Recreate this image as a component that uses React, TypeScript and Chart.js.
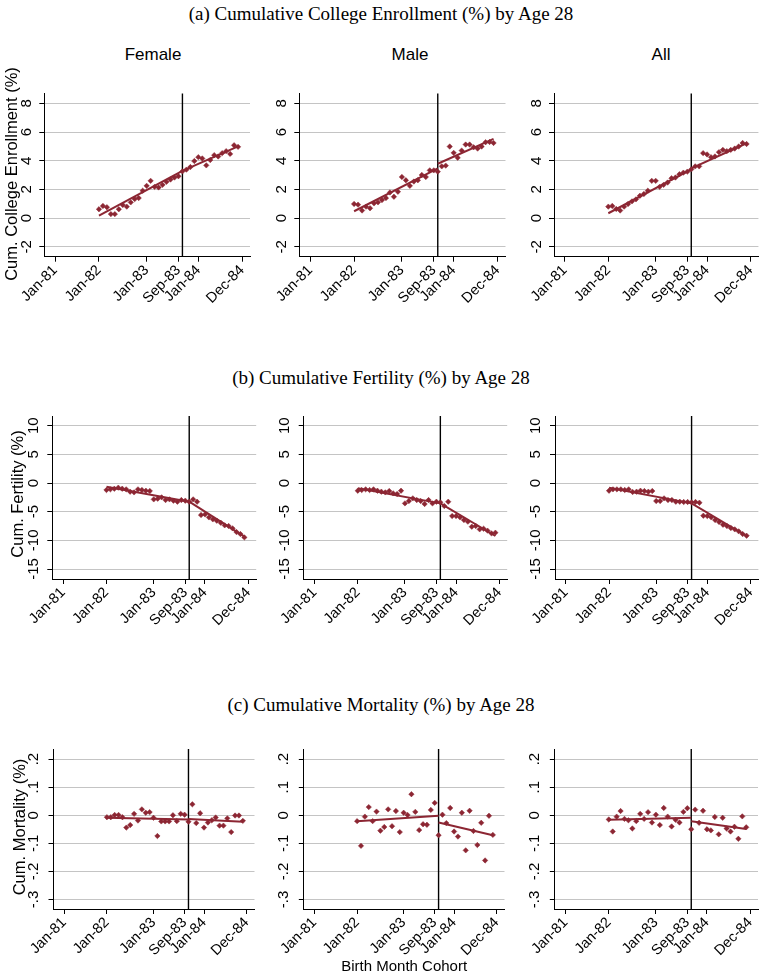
import React, { useEffect, useRef } from "react";
import { Chart, registerables } from "chart.js";

Chart.register(...registerables);

// ---------- DATA ----------
const cohortMonth = [11, 12, 13, 14, 15, 16, 17, 18, 19, 20, 21, 22, 23, 24, 25, 26, 27, 28, 29, 30, 31, 32, 33, 34, 35, 36, 37, 38, 39, 40, 41, 42, 43, 44, 45, 46];
const xTickValues = [0, 11, 23, 31, 36, 47];
const xTickLabels = ["Jan-81", "Jan-82", "Jan-83", "Sep-83", "Jan-84", "Dec-84"];
const cutoffMonth = 32;
const fitLeftX = [11, 32];
const fitRightX = [32, 46];

const collegeFemale = [0.62, 0.85, 0.76, 0.28, 0.28, 0.62, 0.92, 0.8, 1.1, 1.33, 1.4, 1.91, 2.25, 2.6, 2.18, 2.14, 2.32, 2.53, 2.69, 2.83, 2.92, 3.26, 3.38, 3.56, 3.98, 4.25, 4.16, 3.68, 4.05, 4.39, 4.3, 4.53, 4.67, 4.48, 5.08, 4.97];
const collegeMale = [0.99, 0.94, 0.53, 0.8, 0.69, 1.03, 1.1, 1.26, 1.4, 1.79, 1.49, 1.84, 2.87, 2.64, 2.25, 2.55, 2.64, 3.01, 2.87, 3.33, 3.33, 3.24, 3.61, 3.66, 4.99, 4.55, 4.21, 4.71, 5.13, 5.13, 4.94, 4.85, 4.99, 5.29, 5.31, 5.24];
const collegeAll = [0.8, 0.85, 0.64, 0.53, 0.8, 0.99, 1.17, 1.31, 1.56, 1.68, 1.91, 2.6, 2.6, 2.18, 2.32, 2.48, 2.78, 2.83, 3.06, 3.17, 3.24, 3.4, 3.61, 3.61, 4.53, 4.44, 4.25, 4.3, 4.6, 4.76, 4.67, 4.76, 4.85, 4.99, 5.24, 5.17];

const fertilityFemale = [-1.22, -1.1, -0.99, -0.81, -0.99, -1.1, -1.51, -1.63, -1.1, -1.22, -1.34, -1.4, -2.85, -2.73, -2.5, -2.97, -2.85, -3.08, -3.26, -2.97, -3.08, -3.26, -2.85, -3.26, -5.58, -5.47, -5.99, -6.34, -6.57, -6.92, -7.38, -7.5, -7.91, -8.55, -8.9, -9.48];
const fertilityMale = [-1.34, -1.22, -1.1, -1.22, -1.1, -1.34, -1.51, -1.63, -1.4, -1.8, -1.92, -1.34, -3.55, -3.14, -2.67, -2.97, -3.14, -3.66, -2.97, -3.55, -3.26, -3.37, -4.01, -3.26, -5.76, -5.76, -5.99, -6.45, -6.74, -7.62, -7.5, -8.08, -7.97, -8.31, -8.78, -8.66];
const fertilityAll = [-1.34, -1.1, -1.1, -1.1, -1.22, -1.1, -1.57, -1.51, -1.34, -1.4, -1.51, -1.4, -3.14, -3.14, -2.67, -2.97, -2.97, -3.26, -3.26, -3.31, -3.31, -3.37, -3.31, -3.43, -5.7, -5.76, -5.99, -6.45, -6.8, -7.27, -7.5, -7.85, -8.08, -8.43, -8.9, -9.19];

const mortalityFemale = [-0.007, -0.007, 0.001, 0.001, -0.007, -0.044, -0.035, 0.005, -0.019, 0.021, 0.009, 0.011, -0.009, -0.074, -0.022, -0.022, -0.022, 0.0, -0.021, 0.005, 0.002, -0.023, 0.039, -0.028, 0.007, -0.044, -0.026, -0.018, -0.008, -0.037, -0.037, -0.011, -0.06, -0.001, -0.001, -0.02];
const mortalityMale = [-0.021, -0.109, -0.005, 0.029, -0.021, 0.013, -0.055, -0.042, 0.021, -0.039, 0.015, -0.06, 0.009, 0.001, 0.075, 0.012, -0.053, -0.032, -0.034, 0.019, 0.044, -0.071, 0.002, -0.028, 0.026, -0.058, -0.076, 0.009, -0.125, 0.016, -0.056, -0.106, -0.027, -0.161, -0.002, -0.07];
const mortalityAll = [-0.015, -0.058, -0.005, 0.015, -0.013, -0.018, -0.047, -0.021, 0.005, -0.013, 0.011, -0.026, 0.002, -0.035, 0.026, -0.005, -0.04, -0.016, -0.026, 0.012, 0.025, -0.05, 0.02, -0.027, 0.016, -0.05, -0.054, -0.006, -0.068, -0.009, -0.047, -0.058, -0.041, -0.084, -0.004, -0.043];

const collegeFemaleFitLeft = [0.18, 3.29];
const collegeFemaleFitRight = [3.29, 5.0];
const collegeMaleFitLeft = [0.48, 3.47];
const collegeMaleFitRight = [3.79, 5.52];
const collegeAllFitLeft = [0.34, 3.4];
const collegeAllFitRight = [3.47, 5.22];
const fertilityFemaleFitLeft = [-0.64, -3.26];
const fertilityFemaleFitRight = [-3.26, -9.36];
const fertilityMaleFitLeft = [-0.93, -3.55];
const fertilityMaleFitRight = [-3.55, -9.24];
const fertilityAllFitLeft = [-0.81, -3.55];
const fertilityAllFitRight = [-3.55, -9.24];
const mortalityFemaleFitLeft = [-0.009, -0.015];
const mortalityFemaleFitRight = [-0.013, -0.023];
const mortalityMaleFitLeft = [-0.021, -0.002];
const mortalityMaleFitRight = [-0.026, -0.071];
const mortalityAllFitLeft = [-0.016, -0.009];
const mortalityAllFitRight = [-0.021, -0.049];

const collegeTicks = [-2, 0, 2, 4, 6, 8];
const collegeTickLabels = ["-2", "0", "2", "4", "6", "8"];
const fertilityTicks = [-15, -10, -5, 0, 5, 10];
const fertilityTickLabels = ["-15", "-10", "-5", "0", "5", "10"];
const mortalityTicks = [-0.3, -0.2, -0.1, 0, 0.1, 0.2];
const mortalityTickLabels = ["-.3", "-.2", "-.1", "0", ".1", ".2"];

const sectionTitles = [
  "(a) Cumulative College Enrollment (%) by Age 28",
  "(b) Cumulative Fertility (%) by Age 28",
  "(c) Cumulative Mortality (%) by Age 28",
];
const columnTitles = ["Female", "Male", "All"];
const yAxisTitles = ["Cum. College Enrollment (%)", "Cum. Fertility (%)", "Cum. Mortality (%)"];
const xAxisTitle = "Birth Month Cohort";

// ---------- STYLE / LAYOUT ----------
const MARK = "#8c2633";
const SANS = "'Liberation Sans', Arial, sans-serif";
const SERIF = "'Liberation Serif', 'Times New Roman', serif";
const X_MIN = -2.75;
const X_MAX = 49;

type Rect = { left: number; top: number; right: number; bottom: number };
type PanelSpec = {
  values: number[];
  fitLeft: number[];
  fitRight: number[];
  yTicks: number[];
  yTickLabels: string[];
  yMin: number;
  yMax: number;
  yLabelPad: number;
  xTitle?: string;
  plot: Rect;
  canvasLeft: number;
  canvasBottom: number;
};

const rowTops = [91.7, 416, 746];
const rowBottoms = [256.7, 579, 909];
const rowLefts = [
  [44.3, 299.3, 554],
  [52.3, 303.7, 555],
  [53.5, 303.8, 554.8],
];
const rowRights = [
  [250, 505.5, 760.5],
  [256.2, 507.2, 758.6],
  [254.5, 504.5, 758],
];
const canvasLefts = [0, 258, 510];

const rowValues = [
  [collegeFemale, collegeMale, collegeAll],
  [fertilityFemale, fertilityMale, fertilityAll],
  [mortalityFemale, mortalityMale, mortalityAll],
];
const rowFitLeft = [
  [collegeFemaleFitLeft, collegeMaleFitLeft, collegeAllFitLeft],
  [fertilityFemaleFitLeft, fertilityMaleFitLeft, fertilityAllFitLeft],
  [mortalityFemaleFitLeft, mortalityMaleFitLeft, mortalityAllFitLeft],
];
const rowFitRight = [
  [collegeFemaleFitRight, collegeMaleFitRight, collegeAllFitRight],
  [fertilityFemaleFitRight, fertilityMaleFitRight, fertilityAllFitRight],
  [mortalityFemaleFitRight, mortalityMaleFitRight, mortalityAllFitRight],
];
const rowTicks = [collegeTicks, fertilityTicks, mortalityTicks];
const rowTickLabels = [collegeTickLabels, fertilityTickLabels, mortalityTickLabels];
const rowRanges = [
  [-2.69, 8.69],
  [-16.74, 11.69],
  [-0.334, 0.236],
];
const rowLabelPad = [5.5, 3, 6];
const yTitleCenters = [
  [11, 174],
  [16.5, 494],
  [18.5, 827],
];

const panels: PanelSpec[] = [];
for (let r = 0; r < 3; r++) {
  for (let c = 0; c < 3; c++) {
    panels.push({
      values: rowValues[r][c],
      fitLeft: rowFitLeft[r][c],
      fitRight: rowFitRight[r][c],
      yTicks: rowTicks[r],
      yTickLabels: rowTickLabels[r],
      yMin: rowRanges[r][0],
      yMax: rowRanges[r][1],
      yLabelPad: rowLabelPad[r],
      xTitle: r === 2 && c === 1 ? xAxisTitle : undefined,
      plot: { left: rowLefts[r][c], top: rowTops[r], right: rowRights[r][c], bottom: rowBottoms[r] },
      canvasLeft: canvasLefts[c],
      canvasBottom: r === 2 && c === 1 ? 976 : rowBottoms[r] + 64,
    });
  }
}

const cutoffPlugin = {
  id: "cutoffLine",
  beforeDatasetsDraw(chart: any) {
    const { ctx, chartArea, scales } = chart;
    const px = scales.x.getPixelForValue(cutoffMonth);
    ctx.save();
    ctx.strokeStyle = "#000";
    ctx.lineWidth = 1.4;
    ctx.beginPath();
    ctx.moveTo(px, chartArea.top);
    ctx.lineTo(px, chartArea.bottom);
    ctx.stroke();
    ctx.restore();
  },
};

function Panel({ spec }: { spec: PanelSpec }) {
  const ref = useRef<HTMLCanvasElement | null>(null);
  const canvasTop = Math.floor(spec.plot.top - 12);
  const canvasRight = Math.min(763, Math.ceil(spec.plot.right + 8));
  const width = canvasRight - spec.canvasLeft;
  const height = Math.ceil(spec.canvasBottom - canvasTop);
  const padTop = spec.plot.top - canvasTop;
  const padRight = canvasRight - spec.plot.right;
  const yW = spec.plot.left - spec.canvasLeft;
  const xH = canvasTop + height - spec.plot.bottom;

  useEffect(() => {
    if (!ref.current) return;
    const chart = new Chart(ref.current, {
      type: "scatter",
      data: {
        datasets: [
          {
            type: "line",
            data: fitLeftX.map((x, i) => ({ x, y: spec.fitLeft[i] })),
            borderColor: MARK,
            borderWidth: 2,
            pointRadius: 0,
            showLine: true,
            fill: false,
          } as any,
          {
            type: "line",
            data: fitRightX.map((x, i) => ({ x, y: spec.fitRight[i] })),
            borderColor: MARK,
            borderWidth: 2,
            pointRadius: 0,
            showLine: true,
            fill: false,
          } as any,
          {
            type: "scatter",
            data: cohortMonth.map((x, i) => ({ x, y: spec.values[i] })),
            pointStyle: "rectRot",
            pointRadius: 2.7,
            backgroundColor: MARK,
            borderColor: MARK,
            borderWidth: 0.5,
          } as any,
        ],
      },
      options: {
        animation: false,
        responsive: false,
        maintainAspectRatio: false,
        events: [],
        layout: { padding: { top: padTop, right: padRight, left: 0, bottom: 0 } },
        plugins: { legend: { display: false }, tooltip: { enabled: false }, title: { display: false } },
        scales: {
          x: {
            type: "linear",
            min: X_MIN,
            max: X_MAX,
            afterBuildTicks: (s: any) => {
              s.ticks = xTickValues.map((v) => ({ value: v }));
            },
            afterFit: (s: any) => {
              s.height = xH;
            },
            ticks: {
              autoSkip: false,
              minRotation: 45,
              maxRotation: 45,
              padding: 0,
              color: "#000",
              font: { family: SANS, size: 14.5 },
              callback: (_v: any, i: number) => xTickLabels[i],
            },
            grid: { drawOnChartArea: false, drawTicks: true, tickLength: 5, tickColor: "#000", tickWidth: 1 },
            border: { display: true, color: "#000", width: 1 },
            title: spec.xTitle
              ? { display: true, text: spec.xTitle, color: "#000", font: { family: SANS, size: 15 }, padding: { top: 0, bottom: 0 } }
              : { display: false },
          },
          y: {
            type: "linear",
            min: spec.yMin,
            max: spec.yMax,
            afterBuildTicks: (s: any) => {
              s.ticks = spec.yTicks.map((v) => ({ value: v }));
            },
            afterFit: (s: any) => {
              s.width = yW;
            },
            ticks: {
              autoSkip: false,
              minRotation: 90,
              maxRotation: 90,
              crossAlign: "center",
              padding: spec.yLabelPad,
              color: "#000",
              font: { family: SANS, size: 15 },
              callback: (_v: any, i: number) => spec.yTickLabels[i],
            },
            grid: { color: "#c4c4c4", lineWidth: 1, drawTicks: true, tickLength: 5, tickColor: "#000", tickWidth: 1 },
            border: { display: true, color: "#000", width: 1 },
            title: { display: false },
          },
        },
      } as any,
      plugins: [cutoffPlugin],
    });
    return () => chart.destroy();
  }, []);

  return (
    <canvas
      ref={ref}
      width={width}
      height={height}
      style={{ position: "absolute", left: spec.canvasLeft, top: canvasTop, width, height }}
    />
  );
}

function Label({ text, cx, cy, font, size }: { text: string; cx: number; cy: number; font: string; size: number }) {
  return (
    <div
      style={{
        position: "absolute",
        left: cx - 300,
        width: 600,
        top: cy - size * 0.6,
        height: size * 1.2,
        lineHeight: `${size * 1.2}px`,
        textAlign: "center",
        fontFamily: font,
        fontSize: size,
        color: "#000",
        whiteSpace: "nowrap",
      }}
    >
      {text}
    </div>
  );
}

function VLabel({ text, cx, cy, size }: { text: string; cx: number; cy: number; size: number }) {
  return (
    <div
      style={{
        position: "absolute",
        left: cx,
        top: cy,
        transform: "translate(-50%, -50%) rotate(-90deg)",
        fontFamily: SANS,
        fontSize: size,
        lineHeight: 1,
        color: "#000",
        whiteSpace: "nowrap",
      }}
    >
      {text}
    </div>
  );
}

export default function App() {
  const sectionY = [14, 378, 705];
  const columnX = [153, 410, 661];
  return (
    <div style={{ position: "absolute", left: 0, top: 0, width: 763, height: 976, overflow: "hidden", background: "#fff" }}>
      {sectionTitles.map((t, i) => (
        <Label key={t} text={t} cx={381} cy={sectionY[i]} font={SERIF} size={19} />
      ))}
      {columnTitles.map((t, i) => (
        <Label key={t} text={t} cx={columnX[i]} cy={55} font={SANS} size={17} />
      ))}
      {panels.map((p, i) => (
        <Panel key={i} spec={p} />
      ))}
      {yAxisTitles.map((t, i) => (
        <VLabel key={t} text={t} cx={yTitleCenters[i][0]} cy={yTitleCenters[i][1]} size={16.5} />
      ))}
    </div>
  );
}
